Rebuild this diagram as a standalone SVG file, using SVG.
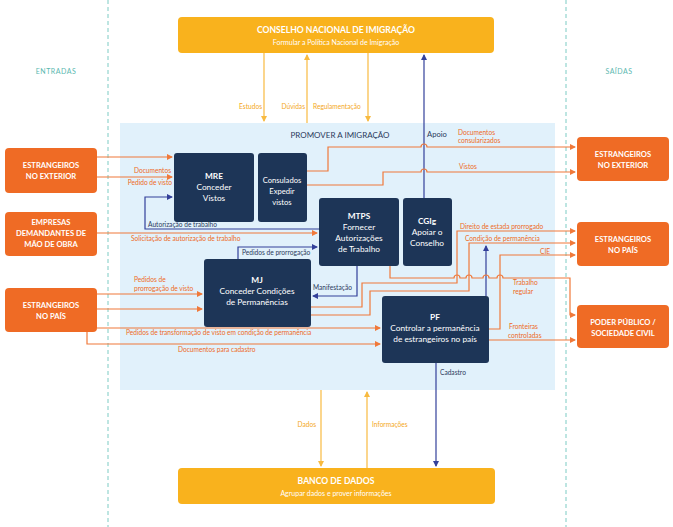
<svg xmlns="http://www.w3.org/2000/svg" width="673" height="527" viewBox="0 0 673 527">
<style>
text{font-family:Lato,"Open Sans","Liberation Sans",sans-serif}
.ob{fill:#EF6B25}
.yb{fill:#F9B21D}
.nb{fill:#1D3557}
.bt{fill:#fff;font-weight:bold;font-size:7.6px;text-anchor:middle}
.yt{fill:#fff;font-weight:bold;font-size:8.6px;text-anchor:middle}
.ys{fill:#fff;font-size:7px;text-anchor:middle}
.pt{fill:#fff;font-size:8.3px;text-anchor:middle}
.lo{fill:#EE6A24;font-size:6.6px}
.ln{fill:#2B3A5C;font-size:6.6px}
.ly{fill:#F4A81D;font-size:6.6px}
.oc{fill:none;stroke:#F0793A;stroke-width:1.2}
.nc{fill:none;stroke:#33409A;stroke-width:1.2}
.yc{fill:none;stroke:#F8BA40;stroke-width:1.2}
.dash{stroke:#7CCBC4;stroke-width:1;stroke-dasharray:4 3}
</style>
<defs>
<marker id="ao" markerWidth="6" markerHeight="6" refX="5" refY="3" orient="auto" markerUnits="userSpaceOnUse"><path d="M0,0 L6,3 L0,6 Z" fill="#F0793A"/></marker>
<marker id="an" markerWidth="6" markerHeight="6" refX="5" refY="3" orient="auto" markerUnits="userSpaceOnUse"><path d="M0,0 L6,3 L0,6 Z" fill="#33409A"/></marker>
<marker id="ay" markerWidth="6" markerHeight="6" refX="5" refY="3" orient="auto" markerUnits="userSpaceOnUse"><path d="M0,0 L6,3 L0,6 Z" fill="#F8BA40"/></marker>
</defs>
<rect width="673" height="527" fill="#fff"/>
<g id="guides">
<line class="dash" x1="108" y1="0" x2="108" y2="527"/>
<line class="dash" x1="566" y1="0" x2="566" y2="527"/>
<text x="56" y="74" style="fill:#5BB8B0;font-size:7px;text-anchor:middle;letter-spacing:0.5px">ENTRADAS</text>
<text x="619" y="74" style="fill:#5BB8B0;font-size:7px;text-anchor:middle;letter-spacing:0.5px">SAÍDAS</text>
</g>
<g id="panel">
<rect x="120" y="123" width="435" height="267" fill="#E1F1FB"/>
<text x="340" y="138" style="fill:#2B3A5C;font-size:8px;text-anchor:middle">PROMOVER A IMIGRAÇÃO</text>
</g>
<g id="connectors">
<path class="yc" d="M264,53V121" marker-end="url(#ay)"/>
<path class="yc" d="M307,123V55" marker-end="url(#ay)"/>
<path class="yc" d="M368,53V121" marker-end="url(#ay)"/>
<path class="yc" d="M321,390V466" marker-end="url(#ay)"/>
<path class="yc" d="M367,468V392" marker-end="url(#ay)"/>
<path class="nc" d="M424,198V55" marker-end="url(#an)"/>
<path class="nc" d="M436,363V466" marker-end="url(#an)"/>
<path class="nc" d="M319,229H145V197H172" marker-end="url(#an)"/>
<path class="nc" d="M238,259V247H317" marker-end="url(#an)"/>
<path class="nc" d="M357,266V296H313" marker-end="url(#an)"/>
<path class="nc" d="M486,296V246" marker-end="url(#an)"/>
<path class="oc" d="M97,157H172" marker-end="url(#ao)"/>
<path class="oc" d="M97,177H172" marker-end="url(#ao)"/>
<path class="oc" d="M97,233H317" marker-end="url(#ao)"/>
<path class="oc" d="M97,294H202" marker-end="url(#ao)"/>
<path class="oc" d="M97,309H202" marker-end="url(#ao)"/>
<path class="oc" d="M97,328H380" marker-end="url(#ao)"/>
<path class="oc" d="M87,332V344H380" marker-end="url(#ao)"/>
<path class="oc" d="M307,171H328V147H421a3,3 0 0 1 6,0H575" marker-end="url(#ao)"/>
<path class="oc" d="M307,185H383V172H421a3,3 0 0 1 6,0H575" marker-end="url(#ao)"/>
<path class="oc" d="M311,307H362V283H457V231H575" marker-end="url(#ao)"/>
<path class="oc" d="M311,315H370V291H469V243H575" marker-end="url(#ao)"/>
<path class="oc" d="M390,266V278H454a3,3 0 0 1 6,0H466a3,3 0 0 1 6,0H483a3,3 0 0 1 6,0H497a3,3 0 0 1 6,0H570V315H575" marker-end="url(#ao)"/>
<path class="oc" d="M489,329H500V255H575" marker-end="url(#ao)"/>
<path class="oc" d="M489,340H575" marker-end="url(#ao)"/>
</g>
<g id="labels">
<text class="ly" x="262" y="109" text-anchor="end">Estudos</text>
<text class="ly" x="305" y="109" text-anchor="end">Dúvidas</text>
<text class="ly" x="313" y="109">Regulamentação</text>
<text class="ly" x="316" y="427" text-anchor="end">Dados</text>
<text class="ly" x="372" y="427">Informações</text>
<text class="ln" x="427" y="137" style="font-size:7.6px">Apoio</text>
<text class="ln" x="440" y="375">Cadastro</text>
<text class="ln" x="148" y="227">Autorização de trabalho</text>
<text class="ln" x="242" y="255">Pedidos de prorrogação</text>
<text class="ln" x="313" y="290">Manifestação</text>
<text class="lo" x="171" y="173" text-anchor="end">Documentos</text>
<text class="lo" x="172" y="185" text-anchor="end">Pedido de visto</text>
<text class="lo" x="131" y="241">Solicitação de autorização de trabalho</text>
<text class="lo" x="134" y="282">Pedidos de</text>
<text class="lo" x="134" y="291">prorrogação de visto</text>
<text class="lo" x="126" y="335">Pedidos de transformação de visto em condição de permanência</text>
<text class="lo" x="178" y="352">Documentos para cadastro</text>
<text class="lo" x="458" y="135">Documentos</text>
<text class="lo" x="458" y="143">consularizados</text>
<text class="lo" x="459" y="169">Vistos</text>
<text class="lo" x="460" y="229">Direito de estada prorrogado</text>
<text class="lo" x="465" y="241">Condição de permanência</text>
<text class="lo" x="540" y="254">CIE</text>
<text class="lo" x="513" y="285">Trabalho</text>
<text class="lo" x="513" y="294">regular</text>
<text class="lo" x="509" y="329">Fronteiras</text>
<text class="lo" x="508" y="338">controladas</text>
</g>
<g id="cnig">
<rect class="yb" x="178" y="17" width="316" height="36" rx="4"/>
<text class="yt" x="336" y="33">CONSELHO NACIONAL DE IMIGRAÇÃO</text>
<text class="ys" x="336" y="45">Formular a Política Nacional de Imigração</text>
</g>
<g id="banco">
<rect class="yb" x="178" y="468" width="317" height="36" rx="4"/>
<text class="yt" x="336" y="484">BANCO DE DADOS</text>
<text class="ys" x="336" y="496">Agrupar dados e prover informações</text>
</g>
<g id="in-exterior">
<rect class="ob" x="5" y="148" width="92" height="45" rx="4"/>
<text class="bt" x="51" y="168">ESTRANGEIROS</text>
<text class="bt" x="51" y="179">NO EXTERIOR</text>
</g>
<g id="in-empresas">
<rect class="ob" x="5" y="212" width="92" height="44" rx="4"/>
<text class="bt" x="51" y="225">EMPRESAS</text>
<text class="bt" x="51" y="236">DEMANDANTES DE</text>
<text class="bt" x="51" y="247">MÃO DE OBRA</text>
</g>
<g id="in-pais">
<rect class="ob" x="5" y="288" width="92" height="44" rx="4"/>
<text class="bt" x="51" y="308">ESTRANGEIROS</text>
<text class="bt" x="51" y="319">NO PAÍS</text>
</g>
<g id="out-exterior">
<rect class="ob" x="577" y="137" width="92" height="44" rx="4"/>
<text class="bt" x="623" y="157">ESTRANGEIROS</text>
<text class="bt" x="623" y="168">NO EXTERIOR</text>
</g>
<g id="out-pais">
<rect class="ob" x="577" y="222" width="92" height="44" rx="4"/>
<text class="bt" x="623" y="242">ESTRANGEIROS</text>
<text class="bt" x="623" y="253">NO PAÍS</text>
</g>
<g id="out-poder">
<rect class="ob" x="577" y="305" width="92" height="43" rx="4"/>
<text class="bt" x="623" y="325">PODER PÚBLICO /</text>
<text class="bt" x="623" y="336">SOCIEDADE CIVIL</text>
</g>
<g id="mre">
<rect class="nb" x="174" y="153" width="80" height="69" rx="3"/>
<text class="pt" x="214" y="179" font-weight="bold">MRE</text>
<text class="pt" x="214" y="190">Conceder</text>
<text class="pt" x="214" y="201">Vistos</text>
</g>
<g id="consulados">
<rect class="nb" x="258" y="153" width="49" height="69" rx="3"/>
<text class="pt" x="282" y="183" style="font-size:7.6px">Consulados</text>
<text class="pt" x="282" y="194" style="font-size:7.6px">Expedir</text>
<text class="pt" x="282" y="205" style="font-size:7.6px">vistos</text>
</g>
<g id="mtps">
<rect class="nb" x="319" y="198" width="80" height="68" rx="3"/>
<text class="pt" x="359" y="219" font-weight="bold">MTPS</text>
<text class="pt" x="359" y="230">Fornecer</text>
<text class="pt" x="359" y="241">Autorizações</text>
<text class="pt" x="359" y="252">de Trabalho</text>
</g>
<g id="cgig">
<rect class="nb" x="403" y="198" width="49" height="68" rx="3"/>
<text class="pt" x="427" y="224" font-weight="bold">CGIg</text>
<text class="pt" x="427" y="235">Apoiar o</text>
<text class="pt" x="427" y="246">Conselho</text>
</g>
<g id="mj">
<rect class="nb" x="204" y="259" width="107" height="68" rx="3"/>
<text class="pt" x="257" y="283" font-weight="bold">MJ</text>
<text class="pt" x="257" y="294">Conceder Condições</text>
<text class="pt" x="257" y="305">de Permanências</text>
</g>
<g id="pf">
<rect class="nb" x="382" y="296" width="107" height="67" rx="3"/>
<text class="pt" x="435" y="320" font-weight="bold">PF</text>
<text class="pt" x="435" y="331">Controlar a permanência</text>
<text class="pt" x="435" y="342">de estrangeiros no país</text>
</g>
</svg>
